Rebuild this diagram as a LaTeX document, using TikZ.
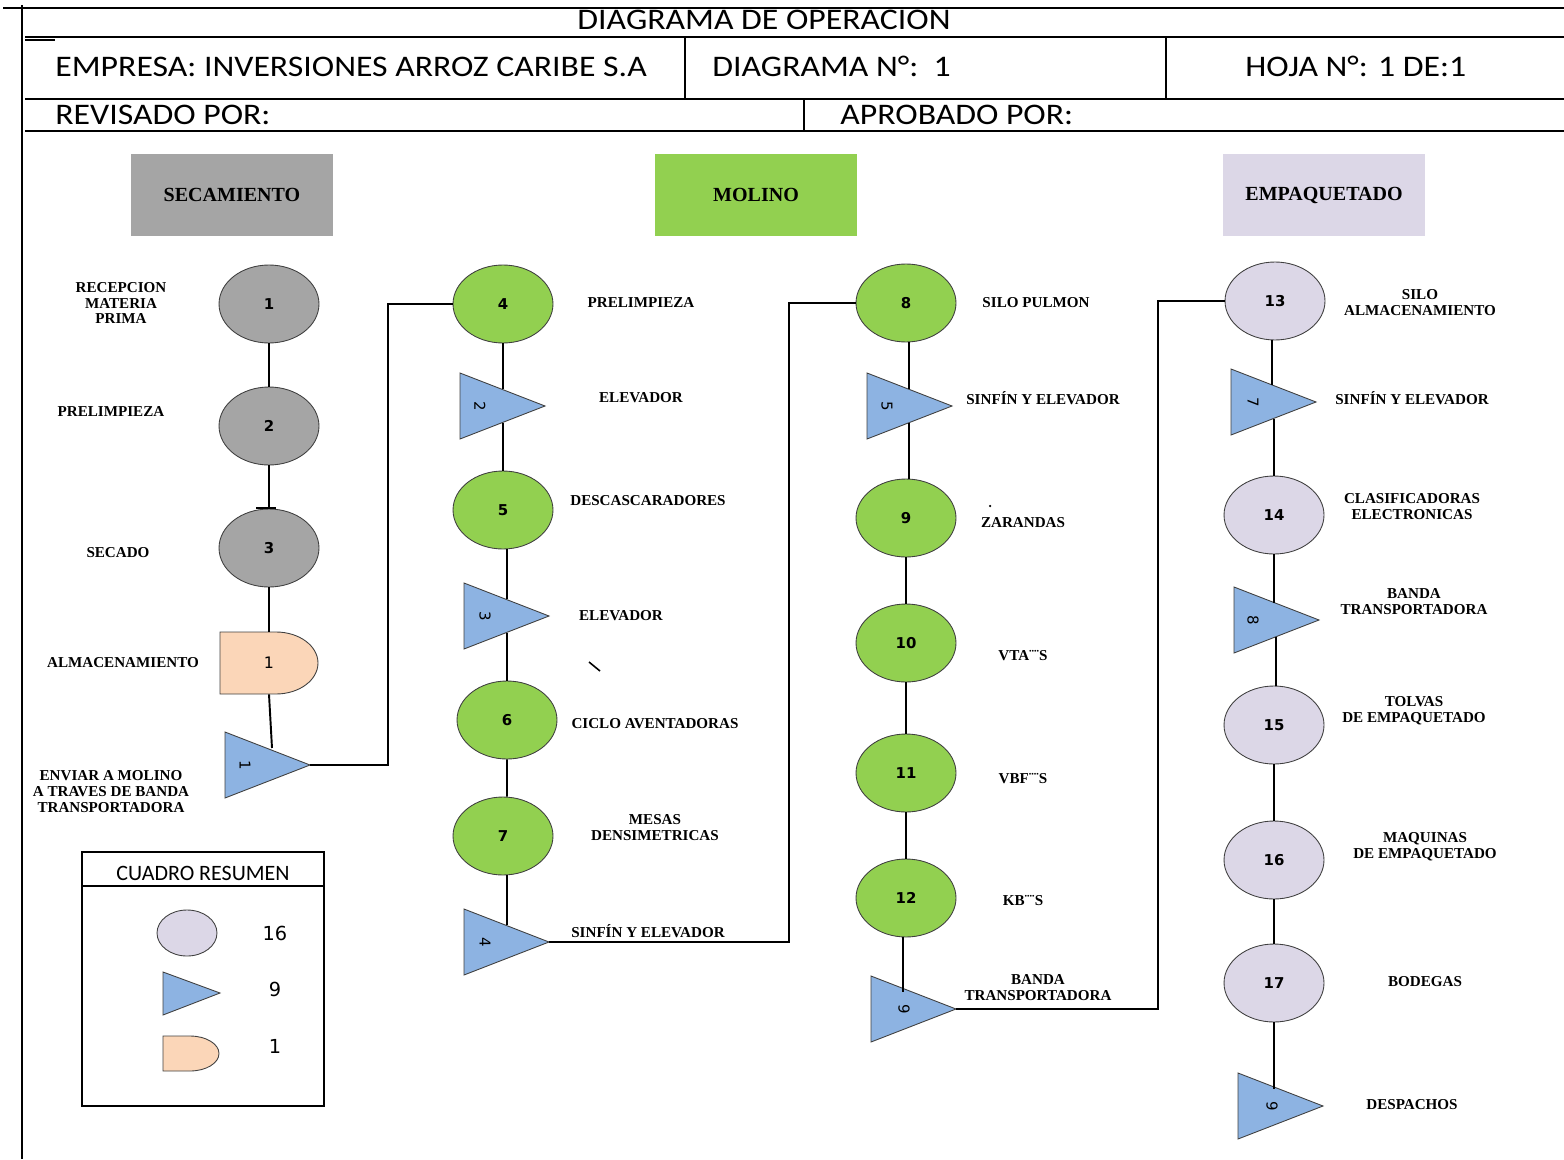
\documentclass[tikz,border=0pt]{standalone}
\usepackage{fontspec}
\setmainfont{Liberation Serif}
\newfontfamily\hdrfont{Carlito}
\newfontfamily\dvs{DejaVu Sans}
\usetikzlibrary{shapes.geometric}
\definecolor{cgray}{HTML}{A5A5A5}
\definecolor{cgreen}{HTML}{92D050}
\definecolor{clav}{HTML}{DCD7E7}
\definecolor{cblue}{HTML}{8DB3E2}
\definecolor{cpeach}{HTML}{FBD6B8}
\definecolor{cedge}{HTML}{404040}
\newcommand\optri[5]{%
  \draw[trishape] (#2,#3-33) -- (#2+85,#3) -- (#2,#3+33) -- cycle;
  \node[trilbl] (#1) at (#2+#5,#3) {#4};
  \coordinate (#1e) at (#2+85,#3);
  \coordinate (#1n) at (#2,#3-17);
  \coordinate (#1s) at (#2,#3+17);}
\begin{document}
\begin{tikzpicture}[x=0.02cm,y=-0.02cm,
  hline/.style={line width=1.1pt},
  conn/.style={line width=1.1pt},
  opc/.style={ellipse, draw=cedge, line width=0.5pt, minimum width=2cm, minimum height=1.56cm, inner sep=0pt, font=\dvs\bfseries\fontsize{8.5}{10}\selectfont},
  trishape/.style={draw=cedge, line width=0.5pt, fill=cblue},
  trilbl/.style={rotate=-90, inner sep=0pt, font=\dvs\fontsize{8.5}{10}\selectfont},
  lbl/.style={font=\bfseries\fontsize{8.6}{9.1}\selectfont, align=center, inner sep=0pt},
  hdrtext/.style={font=\hdrfont\fontsize{17}{20}\selectfont, inner sep=0pt, xscale=1.13},
  hdr/.style={hdrtext, anchor=base west},
  sec/.style={minimum width=4.04cm, minimum height=1.64cm, inner sep=0pt, font=\bfseries\fontsize{11.4}{13}\selectfont}]
\useasboundingbox (0,0) rectangle (1564,1159);
% ---------- frame and header ----------
\draw[hline] (3,8) -- (1564,8);
\draw[hline] (22,5) -- (22,1159);
\draw[hline] (25,37) -- (1564,37);
\draw[hline] (25,99) -- (1564,99);
\draw[hline] (25,131) -- (1564,131);
\draw[hline] (685,37) -- (685,99);
\draw[hline] (1166,37) -- (1166,99);
\draw[hline] (804,99) -- (804,131);
\draw[line width=0.8pt] (25,40) -- (55,40);
\node[hdrtext, anchor=base] (title) at (764,30) {DIAGRAMA DE OPERACION};
\node[hdr] (emp) at (55,77) {EMPRESA: INVERSIONES ARROZ CARIBE S.A};
\node[hdr] (dia) at (712,77) {DIAGRAMA N°:\ \ 1};
\node[hdr] (hoja) at (1245,77) {HOJA N°: 1 DE:1};
\node[hdr] (rev) at (55,124) {REVISADO POR:};
\node[hdr] (apr) at (840,124) {APROBADO POR:};
% ---------- section headers ----------
\node[sec, fill=cgray] (secA) at (232,195) {SECAMIENTO};
\node[sec, fill=cgreen] (secB) at (756,195) {MOLINO};
\node[sec, fill=clav] (secC) at (1324,195) {EMPAQUETADO};
% ---------- column 1 ----------
\node[opc, fill=cgray] (c1) at (269,304) {1};
\node[opc, fill=cgray] (c2) at (269,426) {2};
\node[opc, fill=cgray] (c3) at (269,548) {3};
\draw[draw=cedge, line width=0.5pt, fill=cpeach] (220,632) -- (276,632) arc[start angle=90, end angle=-90, x radius=0.84cm, y radius=0.62cm] -- (220,694) -- cycle;
\node[minimum width=1.96cm, minimum height=1.24cm, inner sep=0pt, font=\dvs\fontsize{9}{10}\selectfont] (s1) at (269,663) {1};
\optri{t1}{225}{765}{1}{20}
% ---------- column 2 ----------
\node[opc, fill=cgreen] (c4) at (503,304) {4};
\optri{t2}{460}{406}{2}{20}
\node[opc, fill=cgreen] (c5) at (503,510) {5};
\optri{t3}{464}{616}{3}{21}
\node[opc, fill=cgreen] (c6) at (507,720) {6};
\node[opc, fill=cgreen] (c7) at (503,836) {7};
\optri{t4}{464}{942}{4}{21}
% ---------- column 3 ----------
\node[opc, fill=cgreen] (c8) at (906,303) {8};
\optri{t5}{867}{406}{5}{20}
\node[opc, fill=cgreen] (c9) at (906,518) {9};
\node[opc, fill=cgreen] (c10) at (906,643) {10};
\node[opc, fill=cgreen] (c11) at (906,773) {11};
\node[opc, fill=cgreen] (c12) at (906,898) {12};
\optri{t6}{871}{1009}{9}{33}
% ---------- column 4 ----------
\node[opc, fill=clav] (c13) at (1275,301) {13};
\optri{t7}{1231}{402}{7}{22}
\node[opc, fill=clav] (c14) at (1274,515) {14};
\optri{t8}{1234}{620}{8}{19}
\node[opc, fill=clav] (c15) at (1274,725) {15};
\node[opc, fill=clav] (c16) at (1274,860) {16};
\node[opc, fill=clav] (c17) at (1274,983) {17};
\optri{t9}{1238}{1106}{9}{34}
% ---------- connectors ----------
\draw[conn] (c1.south) -- (c2.north);
\draw[conn] (c2.south) -- (c3.north);
\draw[conn] (256,508) -- (276,508);
\draw[conn] (c3.south) -- (s1.north);
\draw[conn] (s1.south) -- ([xshift=0.06cm]s1.south |- t1n);
\draw[conn] (t1e) -- ++(78,0) |- (c4.west);
\draw[conn] (c4.south) -- (c4.south |- t2n);
\draw[conn] (c5.north |- t2s) -- (c5.north);
\draw[conn] ([xshift=0.08cm]c5.south) -- ([xshift=0.08cm]c5.south |- t3n);
\draw[conn] (c6.north |- t3s) -- (c6.north);
\draw[conn] (c6.south) -- ([xshift=0.08cm]c7.north);
\draw[conn] ([xshift=0.08cm]c7.south) -- ([xshift=0.08cm]c7.south |- t4n);
\draw[conn] (t4e) -- ++(240,0) |- (c8.west);
\draw[conn] ([xshift=0.06cm]c8.south) -- ([xshift=0.06cm]c8.south |- t5n);
\draw[conn] ([xshift=0.06cm]c9.north |- t5s) -- ([xshift=0.06cm]c9.north);
\draw[conn] (c9.south) -- (c10.north);
\draw[conn] (c10.south) -- (c11.north);
\draw[conn] (c11.south) -- (c12.north);
\draw[conn] ([xshift=-0.06cm]c12.south) -- ([xshift=-0.06cm]c12.south |- t6n);
\draw[conn] (t6e) -- ++(202,0) |- (c13.west);
\draw[conn] ([xshift=-0.06cm]c13.south) -- ([xshift=-0.06cm]c13.south |- t7n);
\draw[conn] (c14.north |- t7s) -- (c14.north);
\draw[conn] (c14.south) -- (c14.south |- t8n);
\draw[conn] ([xshift=0.04cm]c15.north |- t8s) -- ([xshift=0.04cm]c15.north);
\draw[conn] (c15.south) -- (c16.north);
\draw[conn] (c16.south) -- (c17.north);
\draw[conn] (c17.south) -- (c17.south |- t9n);
% stray marks
\draw[line width=0.9pt] (589,662) -- (600,671);
\fill (990,506) circle[radius=0.025cm];
% ---------- labels ----------
\node[lbl] (l1) at (121,303) {RECEPCION\\MATERIA\\PRIMA};
\node[lbl] (l2) at (111,412) {PRELIMPIEZA};
\node[lbl] (l3) at (118,553) {SECADO};
\node[lbl] (l4) at (123,663) {ALMACENAMIENTO};
\node[lbl] (l5) at (111,792) {ENVIAR A MOLINO\\A TRAVES DE BANDA\\TRANSPORTADORA};
\node[lbl] (l6) at (641,303) {PRELIMPIEZA};
\node[lbl] (l7) at (641,398) {ELEVADOR};
\node[lbl] (l8) at (648,501) {DESCASCARADORES};
\node[lbl] (l9) at (621,616) {ELEVADOR};
\node[lbl] (l10) at (655,724) {CICLO AVENTADORAS};
\node[lbl] (l11) at (655,828) {MESAS\\DENSIMETRICAS};
\node[lbl] (l12) at (648,931) {SINFÍN Y ELEVADOR};
\node[lbl] (l13) at (1036,303) {SILO PULMON};
\node[lbl] (l14) at (1043,398) {SINFÍN Y ELEVADOR};
\node[lbl] (l15) at (1023,523) {ZARANDAS};
\node[lbl] (l16) at (1023,656) {VTA¨¨S};
\node[lbl] (l17) at (1023,779) {VBF¨¨S};
\node[lbl] (l18) at (1023,901) {KB¨¨S};
\node[lbl] (l19) at (1038,988) {BANDA\\TRANSPORTADORA};
\node[lbl] (l20) at (1420,303) {SILO\\ALMACENAMIENTO};
\node[lbl] (l21) at (1412,398) {SINFÍN Y ELEVADOR};
\node[lbl] (l22) at (1412,507) {CLASIFICADORAS\\ELECTRONICAS};
\node[lbl] (l23) at (1414,602) {BANDA\\TRANSPORTADORA};
\node[lbl] (l24) at (1414,711) {TOLVAS\\DE EMPAQUETADO};
\node[lbl] (l25) at (1425,847) {MAQUINAS\\DE EMPAQUETADO};
\node[lbl] (l26) at (1425,982) {BODEGAS};
\node[lbl] (l27) at (1412,1105) {DESPACHOS};
% ---------- summary box ----------
\draw[hline] (82,852) rectangle (324,1106);
\draw[hline] (82,886) -- (324,886);
\node[font=\hdrfont\fontsize{12.5}{14}\selectfont, inner sep=0pt] (rt) at (203,873) {CUADRO RESUMEN};
\node[ellipse, draw=cedge, line width=0.5pt, fill=clav, minimum width=1.2cm, minimum height=0.92cm, inner sep=0pt] (re) at (187,933) {};
\draw[trishape] (163,972) -- (220,993) -- (163,1015) -- cycle;
\draw[draw=cedge, line width=0.5pt, fill=cpeach] (163,1036) -- (190,1036) arc[start angle=90, end angle=-90, x radius=0.58cm, y radius=0.35cm] -- (163,1071) -- cycle;
\node[font=\dvs\fontsize{11}{13}\selectfont, inner sep=0pt] (n1) at (275,933) {16};
\node[font=\dvs\fontsize{11}{13}\selectfont, inner sep=0pt] (n2) at (275,989) {9};
\node[font=\dvs\fontsize{11}{13}\selectfont, inner sep=0pt] (n3) at (275,1046) {1};
\end{tikzpicture}
\end{document}
